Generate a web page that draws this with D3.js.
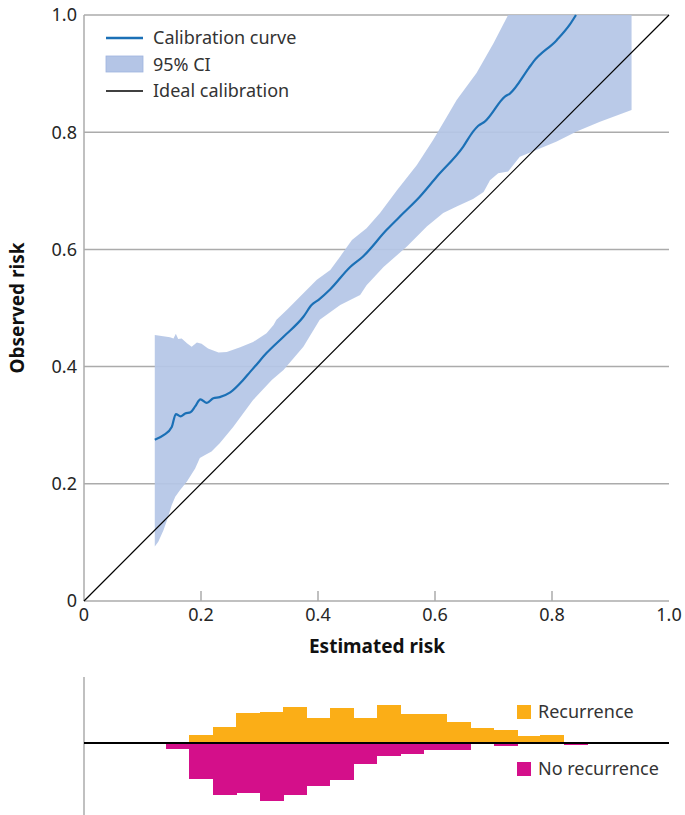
<!DOCTYPE html>
<html>
<head>
<meta charset="utf-8">
<script src="https://cdn.jsdelivr.net/npm/d3@7"></script>
<style>
  body { margin: 0; background: #fff; }
  svg { display: block; font-family: "Noto Sans", "Open Sans", sans-serif; }
</style>
</head>
<body>
<svg id="chart" width="685" height="815"></svg>
<script>
// Calibration curve (estimated risk, observed risk)
const curveX = [0.121, 0.136, 0.150, 0.157, 0.165, 0.173, 0.182, 0.190, 0.199, 0.210, 0.221, 0.232, 0.250, 0.272, 0.284, 0.292, 0.312, 0.341, 0.375, 0.389, 0.401, 0.421, 0.455, 0.477, 0.517, 0.546, 0.574, 0.603, 0.648, 0.665, 0.674, 0.685, 0.720, 0.728, 0.760, 0.768, 0.808, 0.830, 0.841];
const curveY = [0.275, 0.283, 0.297, 0.319, 0.315, 0.320, 0.322, 0.332, 0.344, 0.338, 0.346, 0.348, 0.356, 0.377, 0.391, 0.400, 0.423, 0.451, 0.485, 0.505, 0.514, 0.532, 0.570, 0.588, 0.633, 0.662, 0.690, 0.724, 0.775, 0.801, 0.811, 0.818, 0.861, 0.866, 0.909, 0.920, 0.957, 0.983, 1.000];

// 95% CI upper bound (clipped at 1.0 on the right)
const upperX = [0.121, 0.147, 0.153, 0.157, 0.161, 0.167, 0.176, 0.184, 0.193, 0.201, 0.212, 0.230, 0.244, 0.267, 0.289, 0.312, 0.324, 0.329, 0.347, 0.375, 0.398, 0.421, 0.438, 0.458, 0.483, 0.506, 0.535, 0.569, 0.597, 0.620, 0.637, 0.671, 0.700, 0.725, 0.936];
const upperY = [0.454, 0.450, 0.448, 0.456, 0.447, 0.448, 0.440, 0.434, 0.441, 0.439, 0.431, 0.424, 0.425, 0.433, 0.442, 0.457, 0.471, 0.480, 0.497, 0.525, 0.548, 0.565, 0.588, 0.616, 0.636, 0.662, 0.701, 0.744, 0.787, 0.826, 0.855, 0.901, 0.952, 1.000, 1.000];

// 95% CI lower bound
const lowerX = [0.121, 0.127, 0.136, 0.144, 0.150, 0.156, 0.164, 0.176, 0.190, 0.198, 0.207, 0.218, 0.232, 0.255, 0.289, 0.321, 0.341, 0.375, 0.403, 0.438, 0.472, 0.483, 0.512, 0.552, 0.586, 0.614, 0.637, 0.665, 0.683, 0.688, 0.694, 0.708, 0.725, 0.745, 0.774, 0.808, 0.842, 0.882, 0.936];
const lowerY = [0.093, 0.101, 0.121, 0.144, 0.164, 0.178, 0.189, 0.204, 0.226, 0.244, 0.249, 0.255, 0.269, 0.297, 0.343, 0.377, 0.394, 0.434, 0.480, 0.505, 0.522, 0.539, 0.570, 0.605, 0.639, 0.662, 0.673, 0.686, 0.698, 0.707, 0.718, 0.730, 0.733, 0.758, 0.770, 0.784, 0.801, 0.818, 0.838];

const ticks = [0, 0.2, 0.4, 0.6, 0.8, 1.0];
const tickLabels = ["0", "0.2", "0.4", "0.6", "0.8", "1.0"];
const legendLabels = ["Calibration curve", "95% CI", "Ideal calibration"];

// Histogram of estimated risk by outcome
const binStarts = [0.14, 0.18, 0.22, 0.26, 0.30, 0.34, 0.38, 0.42, 0.46, 0.50, 0.54, 0.58, 0.62, 0.66, 0.70, 0.74, 0.78, 0.82, 0.86];
const binWidth = 0.04;
const recurrence = [0, 8, 16, 30, 31, 36, 25, 35, 25, 38, 29, 29, 21, 15, 13, 7, 8, 0, 1.3];
const noRecurrence = [6, 36, 52, 50, 58, 52, 43, 37, 21, 13, 11, 7, 7, 0, 3, 0, 0, 2.3, 0];
const histLabels = ["Recurrence", "No recurrence"];

const colors = {
  band: "#b4c5e6",
  curve: "#1b70b6",
  grid: "#ababab",
  recurrence: "#fbae17",
  noRecurrence: "#d40f8a",
  text: "#262626"
};

const svg = d3.select("#chart");

const x = d3.scaleLinear().domain([0, 1]).range([84, 669]);
const y = d3.scaleLinear().domain([0, 1]).range([601, 15]);

// Gridlines
svg.append("g")
  .selectAll("line")
  .data(ticks.slice(1))
  .join("line")
  .attr("x1", x(0))
  .attr("x2", x(1))
  .attr("y1", d => y(d))
  .attr("y2", d => y(d))
  .attr("stroke", colors.grid)
  .attr("stroke-width", 1.5);

// CI band: upper left to right, then lower right to left
const bandPoints = upperX.map((v, i) => [v, upperY[i]])
  .concat(lowerX.map((v, i) => [v, lowerY[i]]).reverse());
const line = d3.line().x(d => x(d[0])).y(d => y(d[1]));

svg.append("path")
  .attr("d", line(bandPoints) + "Z")
  .attr("fill", colors.band)
  .attr("fill-opacity", 0.92);

// Axes lines
svg.append("line")
  .attr("x1", x(0)).attr("x2", x(0))
  .attr("y1", y(1)).attr("y2", y(0))
  .attr("stroke", colors.grid).attr("stroke-width", 1.5);
svg.append("line")
  .attr("x1", x(0)).attr("x2", x(1))
  .attr("y1", y(0)).attr("y2", y(0))
  .attr("stroke", colors.grid).attr("stroke-width", 1.5);

// x ticks (small marks pointing up)
svg.append("g")
  .selectAll("line")
  .data(ticks.slice(1, 5))
  .join("line")
  .attr("x1", d => x(d)).attr("x2", d => x(d))
  .attr("y1", y(0)).attr("y2", y(0) - 10)
  .attr("stroke", colors.grid).attr("stroke-width", 1.5);

// Ideal calibration
svg.append("line")
  .attr("x1", x(0)).attr("y1", y(0))
  .attr("x2", x(1)).attr("y2", y(1))
  .attr("stroke", "#000")
  .attr("stroke-width", 1.2);

// Calibration curve
const curvePoints = curveX.map((v, i) => [v, curveY[i]]);
svg.append("path")
  .attr("d", d3.line().x(d => x(d[0])).y(d => y(d[1])).curve(d3.curveMonotoneX)(curvePoints))
  .attr("fill", "none")
  .attr("stroke", colors.curve)
  .attr("stroke-width", 2.2);

// Tick labels
svg.append("g")
  .selectAll("text")
  .data(ticks)
  .join("text")
  .attr("x", 77)
  .attr("y", d => y(d))
  .attr("dy", "0.35em")
  .attr("text-anchor", "end")
  .attr("font-size", 18)
  .attr("fill", colors.text)
  .text((d, i) => tickLabels[i]);

svg.append("g")
  .selectAll("text")
  .data(ticks)
  .join("text")
  .attr("x", d => x(d))
  .attr("y", y(0) + 20)
  .attr("text-anchor", "middle")
  .attr("font-size", 18)
  .attr("fill", colors.text)
  .text((d, i) => tickLabels[i]);

// Axis titles
svg.append("text")
  .attr("x", 377)
  .attr("y", 653)
  .attr("text-anchor", "middle")
  .attr("font-size", 19)
  .attr("font-weight", "bold")
  .attr("fill", "#111")
  .text("Estimated risk");

svg.append("text")
  .attr("transform", "translate(24,308) rotate(-90)")
  .attr("text-anchor", "middle")
  .attr("font-size", 19)
  .attr("font-weight", "bold")
  .attr("fill", "#111")
  .text("Observed risk");

// Legend
const legend = svg.append("g").attr("transform", "translate(106,38)");
legend.append("line")
  .attr("x1", 0).attr("x2", 37).attr("y1", 0).attr("y2", 0)
  .attr("stroke", colors.curve).attr("stroke-width", 2.5);
legend.append("rect")
  .attr("x", 0).attr("y", 18).attr("width", 37).attr("height", 16)
  .attr("fill", colors.band).attr("stroke", "#9fb3de").attr("stroke-width", 0.8);
legend.append("line")
  .attr("x1", 0).attr("x2", 37).attr("y1", 53).attr("y2", 53)
  .attr("stroke", "#000").attr("stroke-width", 1.5);
legend.selectAll("text")
  .data(legendLabels)
  .join("text")
  .attr("x", 47)
  .attr("y", (d, i) => i * 26.5)
  .attr("dy", "0.35em")
  .attr("font-size", 18)
  .attr("fill", "#333")
  .text(d => d);

// Histogram
const hY = d3.scaleLinear().domain([-70, 70]).range([813, 673]);

svg.append("line")
  .attr("x1", x(0)).attr("x2", x(0))
  .attr("y1", 677).attr("y2", 815)
  .attr("stroke", colors.grid).attr("stroke-width", 1.5);

svg.append("g")
  .attr("shape-rendering", "crispEdges")
  .selectAll("rect")
  .data(binStarts)
  .join("rect")
  .attr("x", d => x(d))
  .attr("width", d => x(d + binWidth) - x(d) + 0.6)
  .attr("y", (d, i) => hY(recurrence[i]))
  .attr("height", (d, i) => hY(0) - hY(recurrence[i]))
  .attr("fill", colors.recurrence);

svg.append("g")
  .attr("shape-rendering", "crispEdges")
  .selectAll("rect")
  .data(binStarts)
  .join("rect")
  .attr("x", d => x(d))
  .attr("width", d => x(d + binWidth) - x(d) + 0.6)
  .attr("y", hY(0))
  .attr("height", (d, i) => hY(-noRecurrence[i]) - hY(0))
  .attr("fill", colors.noRecurrence);

svg.append("line")
  .attr("x1", x(0)).attr("x2", x(1))
  .attr("y1", hY(0)).attr("y2", hY(0))
  .attr("stroke", "#000").attr("stroke-width", 2);

const histLegend = svg.append("g").attr("transform", "translate(517,705)");
histLegend.selectAll("rect")
  .data(histLabels)
  .join("rect")
  .attr("x", 0)
  .attr("y", (d, i) => i * 57)
  .attr("width", 14)
  .attr("height", 14)
  .attr("fill", (d, i) => i === 0 ? colors.recurrence : colors.noRecurrence);
histLegend.selectAll("text")
  .data(histLabels)
  .join("text")
  .attr("x", 21)
  .attr("y", (d, i) => i * 57 + 7)
  .attr("dy", "0.35em")
  .attr("font-size", 18)
  .attr("fill", "#333")
  .text(d => d);
</script>
</body>
</html>
